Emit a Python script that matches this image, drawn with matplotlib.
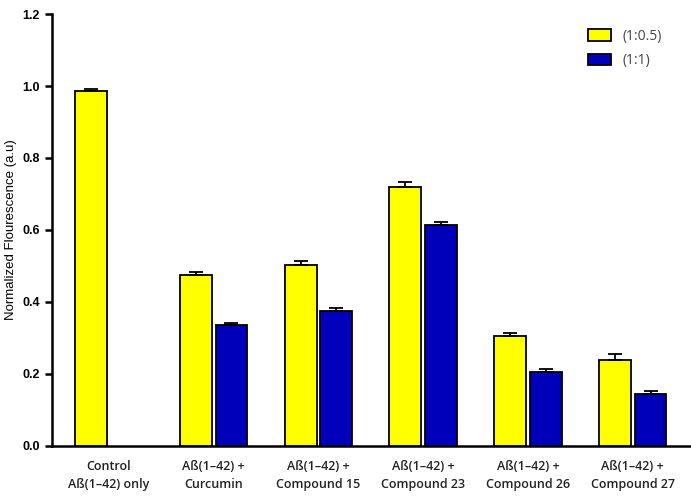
import numpy as np
import matplotlib.pyplot as plt

categories = ['Control\nAß(1–42) only', 'Aß(1–42) +\nCurcumin', 'Aß(1–42) +\nCompound 15',
              'Aß(1–42) +\nCompound 23', 'Aß(1–42) +\nCompound 26', 'Aß(1–42) +\nCompound 27']
ratio_05 = [0.985, 0.475, 0.502, 0.720, 0.305, 0.240]
ratio_05_err = [0.008, 0.008, 0.013, 0.013, 0.008, 0.015]
ratio_1 = [np.nan, 0.335, 0.375, 0.615, 0.205, 0.145]
ratio_1_err = [0, 0.007, 0.008, 0.007, 0.008, 0.008]

x = np.arange(len(categories))
w = 0.305
off = 0.17

fig = plt.figure(figsize=(6.91, 5.01), dpi=100)
ax = fig.add_axes([0.075, 0.11, 0.924, 0.862])

err_kw = dict(ecolor='black', elinewidth=1.3, capsize=5, capthick=1.3)
lo = np.zeros(len(x))
ax.bar(x - off, ratio_05, w, color='#ffff00', edgecolor='black', linewidth=1.3,
       yerr=[lo, ratio_05_err], error_kw=err_kw, label='(1:0.5)', zorder=3)
ax.bar(x + off, ratio_1, w, color='#0000bb', edgecolor='black', linewidth=1.3,
       yerr=[lo, ratio_1_err], error_kw=err_kw, label='(1:1)', zorder=3)

ax.set_xlim(-0.545, 5.55)
ax.set_ylim(0, 1.2)
ax.set_yticks(np.arange(0, 1.21, 0.2))
ax.set_yticklabels([f'{v:.1f}' for v in np.arange(0, 1.21, 0.2)],
                   fontsize=9, fontweight='bold', family='Liberation Sans')
ax.set_xticks(x)
ax.set_xticklabels(categories, fontsize=9, family='Open Sans', fontweight='semibold',
                   color='#222222', linespacing=1.5)
ax.tick_params(axis='x', length=0, pad=10)
ax.tick_params(axis='y', length=5, width=1.8, direction='out')
ax.set_ylabel('Normalized Flourescence (a.u)', fontsize=9.5, family='Liberation Sans')

for s in ['top', 'right']:
    ax.spines[s].set_visible(False)
for s in ['left', 'bottom']:
    ax.spines[s].set_linewidth(1.8)

leg = ax.legend(loc='upper right', bbox_to_anchor=(0.975, 0.995), frameon=False,
                prop={'family': 'Open Sans', 'size': 10}, handlelength=1.7,
                handleheight=0.9, labelspacing=0.7, handletextpad=0.8)
for t in leg.get_texts():
    t.set_color('#444444')

fig.savefig('out.png', dpi=100)
